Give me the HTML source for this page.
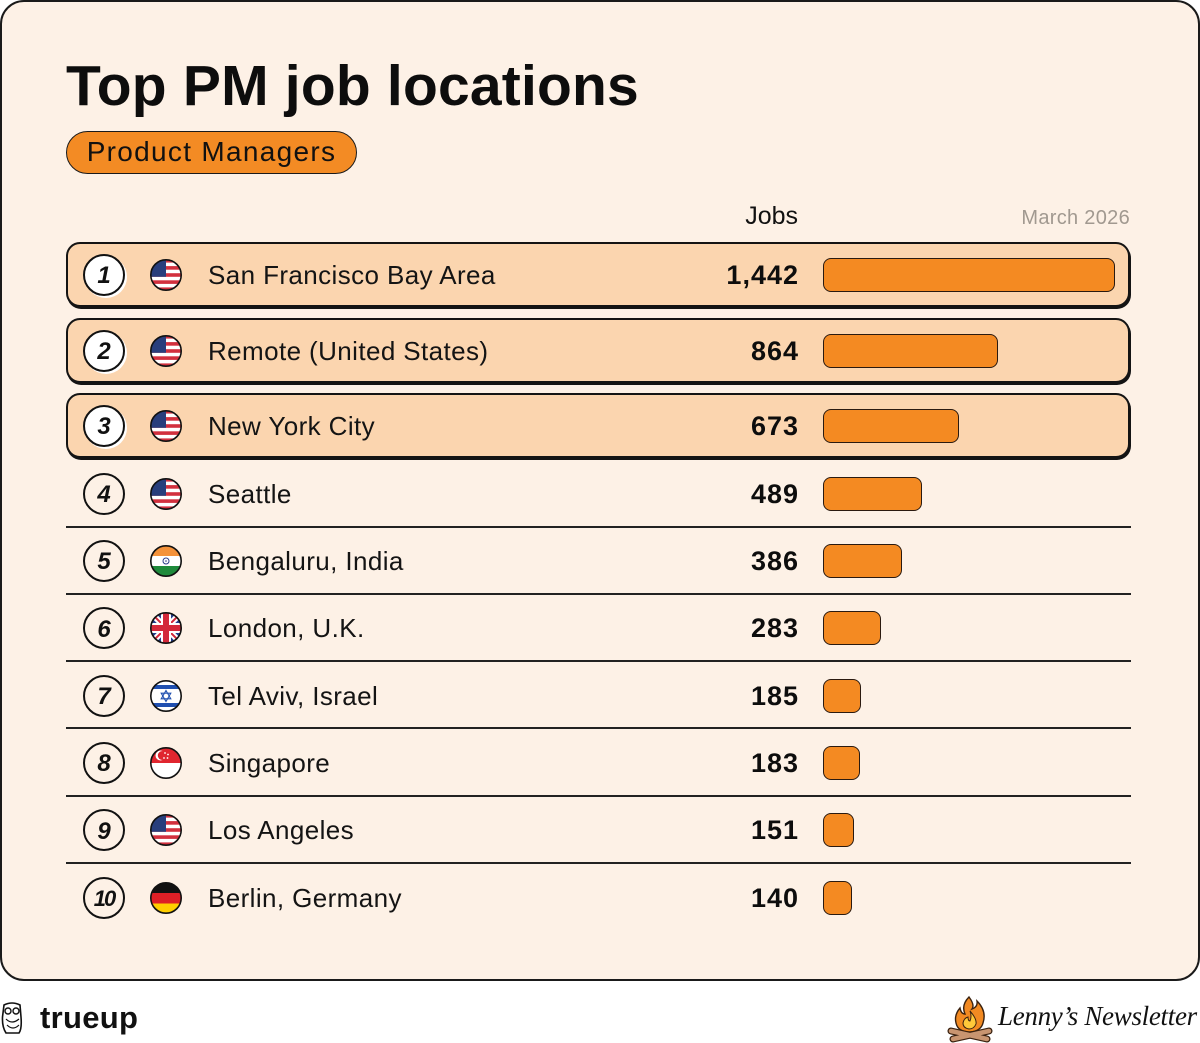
<!DOCTYPE html>
<html><head><meta charset="utf-8">
<style>
*{margin:0;padding:0;box-sizing:border-box}
body{width:1200px;height:1043px;background:#fff;position:relative;overflow:hidden;font-family:"Liberation Sans",Arial,sans-serif;color:#111}
.card{position:absolute;left:0;top:0;width:1200px;height:981px;background:#FDF1E6;border:2px solid #1a1a1a;border-radius:24px}
.title{position:absolute;left:66px;top:58px;font-size:57px;line-height:57px;font-weight:bold;letter-spacing:0.2px;color:#0d0d0d;white-space:nowrap}
.pill{position:absolute;left:66px;top:131px;width:291px;height:43px;border-radius:22px;border:1.5px solid #1a1a1a;background:#F38B24;font-size:28px;letter-spacing:1.3px;line-height:40px;text-align:center;color:#111;white-space:nowrap}
.jobs{position:absolute;right:402px;top:201px;font-size:25px;line-height:30px;color:#111}
.month{position:absolute;right:70px;top:205px;font-size:20px;line-height:26px;color:#a19990;letter-spacing:0.3px}
.box{position:absolute;left:66px;width:1064px;height:65px;border:2px solid #141414;border-radius:14px;background:#FBD5AF;box-shadow:1px 2px 0 #141414}
.line{position:absolute;left:66px;width:1065px;height:2px;background:#222}
.row{position:absolute;left:0;width:1200px;height:0}
.rk{position:absolute;left:83px;top:-21px;width:42px;height:42px;border:2.5px solid #111;border-radius:50%;background:#FDF1E6;display:flex;align-items:center;justify-content:center;font-weight:bold;font-style:italic;font-size:24px;line-height:1;color:#111;padding-top:3px}
.hl .rk{background:#fff;box-shadow:2px 2px 0 #fff}
.flag{position:absolute;left:150px;top:-16px;width:32px;height:32px}
.loc{position:absolute;left:208px;top:-20px;height:40px;line-height:40px;font-size:26px;letter-spacing:0.4px;white-space:nowrap;color:#141414}
.num{position:absolute;right:401px;top:-20px;height:40px;line-height:40px;font-size:27px;font-weight:bold;letter-spacing:1px;color:#0d0d0d}
.bar{position:absolute;left:823px;top:-17px;height:34px;border:1.5px solid #2a1a10;border-radius:8px;background:#F48A22}
.trueup{position:absolute;left:40px;top:1002px;font-size:31px;line-height:31px;font-weight:bold;color:#111;letter-spacing:0.3px}
.lenny{position:absolute;left:998px;top:1000px;font-family:"Liberation Serif",serif;font-style:italic;font-size:27px;line-height:32px;color:#111;white-space:nowrap;letter-spacing:-0.3px}
</style></head><body>
<div class="card"></div>
<div class="title">Top PM job locations</div>
<div class="pill">Product Managers</div>
<div class="jobs">Jobs</div>
<div class="month">March 2026</div>

<div class="box" style="top:242px"></div>
<div class="box" style="top:318px"></div>
<div class="box" style="top:393px"></div>

<div class="line" style="top:526px"></div>
<div class="line" style="top:593px"></div>
<div class="line" style="top:660px"></div>
<div class="line" style="top:727px"></div>
<div class="line" style="top:795px"></div>
<div class="line" style="top:862px"></div>

<svg width="0" height="0" style="position:absolute">
<defs>
<clipPath id="c"><circle cx="16" cy="16" r="15.2"/></clipPath>
<g id="us"><g clip-path="url(#c)"><rect width="32" height="32" fill="#fff"/>
<rect y="0" width="32" height="3.6" fill="#d2303e"/><rect y="7.1" width="32" height="3.6" fill="#d2303e"/><rect y="14.2" width="32" height="3.6" fill="#d2303e"/><rect y="21.3" width="32" height="3.6" fill="#d2303e"/><rect y="28.4" width="32" height="3.6" fill="#d2303e"/>
<rect width="16" height="17.8" fill="#283e7c"/></g><circle cx="16" cy="16" r="15.2" fill="none" stroke="#111" stroke-width="1.6"/></g>
<g id="in"><g clip-path="url(#c)"><rect width="32" height="11" fill="#f4923a"/><rect y="11" width="32" height="10" fill="#fff"/><rect y="21" width="32" height="11" fill="#1f8a3b"/><circle cx="16" cy="16" r="3" fill="none" stroke="#2a3a8a" stroke-width="1"/><circle cx="16" cy="16" r="0.8" fill="#2a3a8a"/></g><circle cx="16" cy="16" r="15.2" fill="none" stroke="#111" stroke-width="1.6"/></g>
<g id="uk"><g clip-path="url(#c)"><rect width="32" height="32" fill="#223d8c"/><path d="M0 0L32 32M32 0L0 32" stroke="#fff" stroke-width="6"/><path d="M0 0L32 32M32 0L0 32" stroke="#d3283a" stroke-width="2"/><path d="M16 0V32M0 16H32" stroke="#fff" stroke-width="10"/><path d="M16 0V32M0 16H32" stroke="#d3283a" stroke-width="6"/></g><circle cx="16" cy="16" r="15.2" fill="none" stroke="#111" stroke-width="1.6"/></g>
<g id="il"><g clip-path="url(#c)"><rect width="32" height="32" fill="#fff"/><rect y="5" width="32" height="4" fill="#1f4fb0"/><rect y="23" width="32" height="4" fill="#1f4fb0"/><path d="M16 10.5L20.8 18.8H11.2Z M16 21.5L20.8 13.2H11.2Z" fill="none" stroke="#1f4fb0" stroke-width="1.1"/></g><circle cx="16" cy="16" r="15.2" fill="none" stroke="#111" stroke-width="1.6"/></g>
<g id="sg"><g clip-path="url(#c)"><rect width="32" height="16" fill="#e0262f"/><rect y="16" width="32" height="16" fill="#fff"/><circle cx="10.5" cy="8.5" r="5" fill="#fff"/><circle cx="12.3" cy="8.5" r="4.5" fill="#e0262f"/><circle cx="15" cy="6" r="0.9" fill="#fff"/><circle cx="18" cy="7.5" r="0.9" fill="#fff"/><circle cx="17.5" cy="11" r="0.9" fill="#fff"/><circle cx="14" cy="11" r="0.9" fill="#fff"/></g><circle cx="16" cy="16" r="15.2" fill="none" stroke="#111" stroke-width="1.6"/></g>
<g id="de"><g clip-path="url(#c)"><rect width="32" height="11" fill="#111"/><rect y="11" width="32" height="10.5" fill="#dd1f26"/><rect y="21.5" width="32" height="11" fill="#ffce00"/></g><circle cx="16" cy="16" r="15.2" fill="none" stroke="#111" stroke-width="1.6"/></g>
</defs></svg>

<div class="row hl" style="top:274.5px"><div class="rk">1</div><svg class="flag" viewBox="0 0 32 32"><use href="#us"/></svg><div class="loc">San Francisco Bay Area</div><div class="num">1,442</div><div class="bar" style="width:292px"></div></div>
<div class="row hl" style="top:350.5px"><div class="rk">2</div><svg class="flag" viewBox="0 0 32 32"><use href="#us"/></svg><div class="loc">Remote (United States)</div><div class="num">864</div><div class="bar" style="width:175px"></div></div>
<div class="row hl" style="top:425.5px"><div class="rk">3</div><svg class="flag" viewBox="0 0 32 32"><use href="#us"/></svg><div class="loc">New York City</div><div class="num">673</div><div class="bar" style="width:136px"></div></div>
<div class="row" style="top:493.5px"><div class="rk">4</div><svg class="flag" viewBox="0 0 32 32"><use href="#us"/></svg><div class="loc">Seattle</div><div class="num">489</div><div class="bar" style="width:99px"></div></div>
<div class="row" style="top:560.8px"><div class="rk">5</div><svg class="flag" viewBox="0 0 32 32"><use href="#in"/></svg><div class="loc">Bengaluru, India</div><div class="num">386</div><div class="bar" style="width:79px"></div></div>
<div class="row" style="top:628.2px"><div class="rk">6</div><svg class="flag" viewBox="0 0 32 32"><use href="#uk"/></svg><div class="loc">London, U.K.</div><div class="num">283</div><div class="bar" style="width:58px"></div></div>
<div class="row" style="top:695.5px"><div class="rk">7</div><svg class="flag" viewBox="0 0 32 32"><use href="#il"/></svg><div class="loc">Tel Aviv, Israel</div><div class="num">185</div><div class="bar" style="width:38px"></div></div>
<div class="row" style="top:762.8px"><div class="rk">8</div><svg class="flag" viewBox="0 0 32 32"><use href="#sg"/></svg><div class="loc">Singapore</div><div class="num">183</div><div class="bar" style="width:37px"></div></div>
<div class="row" style="top:830.2px"><div class="rk">9</div><svg class="flag" viewBox="0 0 32 32"><use href="#us"/></svg><div class="loc">Los Angeles</div><div class="num">151</div><div class="bar" style="width:31px"></div></div>
<div class="row" style="top:897.5px"><div class="rk" style="letter-spacing:-2px;font-size:22px">10</div><svg class="flag" viewBox="0 0 32 32"><use href="#de"/></svg><div class="loc">Berlin, Germany</div><div class="num">140</div><div class="bar" style="width:29px"></div></div>

<!-- footer -->
<svg style="position:absolute;left:1px;top:1001px" width="22" height="34" viewBox="0 0 22 34">
<path d="M3 4 Q11 0 19 4 L20 16 Q21 28 18 32 L5 32 Q1 26 1.5 16 Z" fill="none" stroke="#111" stroke-width="1.6"/>
<circle cx="7" cy="10" r="3" fill="none" stroke="#111" stroke-width="1.4"/>
<circle cx="15" cy="10" r="3" fill="none" stroke="#111" stroke-width="1.4"/>
<path d="M5 18 Q11 24 18 18 M6 24 Q12 30 18 24" fill="none" stroke="#111" stroke-width="1.2"/>
</svg>
<div class="trueup">trueup</div>

<svg style="position:absolute;left:947px;top:995px" width="46" height="48" viewBox="0 0 46 48">
<path d="M22 2 Q28 10 25 14 Q31 12 30 6 Q40 16 36 28 Q34 36 23 37 Q11 37 9 28 Q7 20 13 13 Q14 19 18 19 Q14 10 22 2Z" fill="#f28a22" stroke="#3a2210" stroke-width="1.4"/>
<path d="M23 16 Q30 24 29 29 Q27 34 22 34 Q16 33 16 28 Q17 23 21 22 Q21 26 23 26 Q25 21 23 16Z" fill="#ffc93a" stroke="#3a2210" stroke-width="1"/>
<path d="M4 36 L40 44 M6 44 L42 36" stroke="#3a2210" stroke-width="7" stroke-linecap="round"/>
<path d="M4 36 L40 44 M6 44 L42 36" stroke="#c89570" stroke-width="4.5" stroke-linecap="round"/>
</svg>
<div class="lenny">Lenny’s Newsletter</div>
</body></html>
